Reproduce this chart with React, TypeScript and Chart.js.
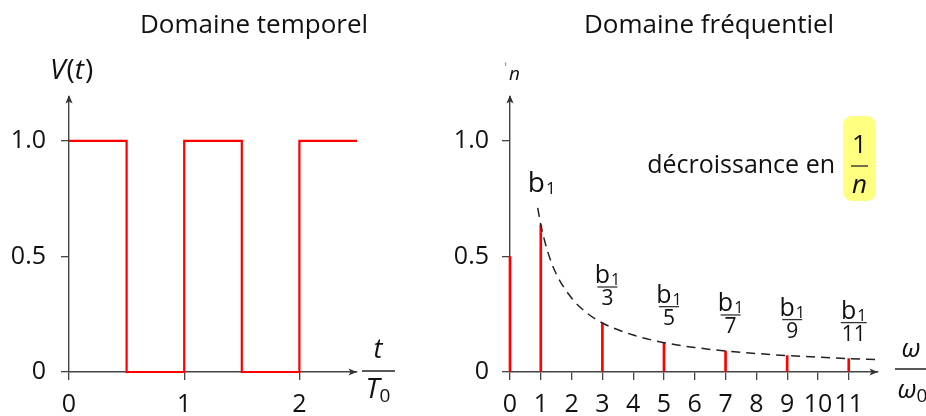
import React, { useEffect, useRef } from 'react';
import { Chart, registerables } from 'chart.js';

Chart.register(...registerables);

// ---------- Time domain (square wave) ----------
const squareT = [0, 0.5, 0.5, 1, 1, 1.5, 1.5, 2, 2, 2.5];
const squareV = [1, 1, 0, 0, 1, 1, 0, 0, 1, 1];
const timeTicks = [0, 1, 2];
const valueTicks = [0, 0.5, 1.0];

// ---------- Frequency domain (spectrum) ----------
const harmonicN = [0, 1, 3, 5, 7, 9, 11];
const harmonicAmp = [0.5, 0.637, 0.212, 0.127, 0.091, 0.071, 0.058];
const harmonicDen = ['', '', '3', '5', '7', '9', '11'];
const envelopeX = [0.9, 1, 1.25, 1.5, 2, 2.5, 3, 4, 5, 6, 7, 8, 9, 10, 11, 11.9];
const envelopeY = [0.71, 0.637, 0.51, 0.425, 0.32, 0.255, 0.212, 0.16, 0.127, 0.106, 0.091, 0.08, 0.071, 0.064, 0.058, 0.054];
const freqTicks = [0, 1, 2, 3, 4, 5, 6, 7, 8, 9, 10, 11];

const FONT = '"Open Sans", "Liberation Sans", sans-serif';
const INK = '#111111';
const AXIS = '#444444';
const RED = '#ff0000';

function setFont(ctx: CanvasRenderingContext2D, size: number, italic = false) {
  ctx.font = `${italic ? 'italic ' : ''}${size}px ${FONT}`;
}

function text(ctx: CanvasRenderingContext2D, s: string, x: number, y: number, size: number, align: CanvasTextAlign = 'left', italic = false, color = INK) {
  setFont(ctx, size, italic);
  ctx.fillStyle = color;
  ctx.textAlign = align;
  ctx.textBaseline = 'alphabetic';
  ctx.fillText(s, x, y);
}

function arrowUp(ctx: CanvasRenderingContext2D, x: number, y: number) {
  ctx.fillStyle = '#333';
  ctx.beginPath();
  ctx.moveTo(x, y);
  ctx.lineTo(x + 3.6, y + 8.5);
  ctx.lineTo(x, y + 6.5);
  ctx.lineTo(x - 3.6, y + 8.5);
  ctx.closePath();
  ctx.fill();
}

function arrowRight(ctx: CanvasRenderingContext2D, x: number, y: number) {
  ctx.fillStyle = '#333';
  ctx.beginPath();
  ctx.moveTo(x, y);
  ctx.lineTo(x - 8.5, y - 3.6);
  ctx.lineTo(x - 6.5, y);
  ctx.lineTo(x - 8.5, y + 3.6);
  ctx.closePath();
  ctx.fill();
}

function hline(ctx: CanvasRenderingContext2D, x1: number, x2: number, y: number, w = 1.4, color = '#222') {
  ctx.strokeStyle = color;
  ctx.lineWidth = w;
  ctx.beginPath();
  ctx.moveTo(x1, y);
  ctx.lineTo(x2, y);
  ctx.stroke();
}

// "b" with subscript 1, centered at cx, baseline y
function drawB1(ctx: CanvasRenderingContext2D, cx: number, y: number, bSize: number, subSize: number) {
  setFont(ctx, bSize);
  const wb = ctx.measureText('b').width;
  setFont(ctx, subSize);
  const w1 = ctx.measureText('1').width;
  const x0 = cx - (wb + w1 + 1) / 2;
  text(ctx, 'b', x0, y, bSize, 'left');
  text(ctx, '1', x0 + wb + 1, y + 2, subSize, 'left');
}

function axisScale(ticks: number[], min: number, max: number, isX: boolean, size: number, fmt: (v: number) => string, pad: number) {
  return {
    type: 'linear' as const,
    min,
    max,
    offset: false,
    afterBuildTicks: (s: any) => {
      s.ticks = ticks.map((v) => ({ value: v }));
    },
    afterFit: (s: any) => {
      if (isX) s.height = 44;
    },
    grid: {
      offset: false,
      drawOnChartArea: false,
      drawTicks: true,
      tickLength: 8,
      color: AXIS,
      lineWidth: 1.3,
    },
    border: { display: true, color: AXIS, width: 1.4 },
    ticks: {
      font: { family: FONT, size },
      color: INK,
      padding: pad,
      autoSkip: false,
      maxRotation: 0,
      minRotation: 0,
      callback: (v: any) => fmt(Number(v)),
    },
  };
}

const fmtY = (v: number) => (v === 0 ? '0' : v.toFixed(1));
const fmtX = (v: number) => String(v);

function leftConfig(): any {
  const overlay = {
    id: 'leftOverlay',
    afterDraw(chart: any) {
      const ctx: CanvasRenderingContext2D = chart.ctx;
      const ca = chart.chartArea;
      ctx.save();
      arrowUp(ctx, ca.left, ca.top - 2);
      arrowRight(ctx, ca.right, ca.bottom);
      // title
      text(ctx, 'Domaine temporel', ca.left + 185, 33, 26, 'center');
      // V(t)
      let x = ca.left - 19;
      const yb = 79;
      setFont(ctx, 28, true);
      text(ctx, 'V', x, yb, 28, 'left', true);
      x += ctx.measureText('V').width + 1;
      setFont(ctx, 28);
      text(ctx, '(', x, yb, 28);
      x += ctx.measureText('(').width;
      setFont(ctx, 28, true);
      text(ctx, 't', x, yb, 28, 'left', true);
      x += ctx.measureText('t').width + 1;
      text(ctx, ')', x, yb, 28);
      // t / T0
      const cx = ca.right + 21;
      text(ctx, 't', cx, 358, 27, 'center', true);
      hline(ctx, ca.right + 5, ca.right + 38, ca.bottom - 1, 1.4);
      setFont(ctx, 28, true);
      const wT = ctx.measureText('T').width;
      setFont(ctx, 19);
      const w0 = ctx.measureText('0').width;
      const tx = cx - (wT + w0) / 2;
      text(ctx, 'T', tx, 398, 28, 'left', true);
      text(ctx, '0', tx + wT, 402, 19, 'left');
      ctx.restore();
    },
  };
  return {
    type: 'line',
    data: {
      datasets: [
        {
          data: squareT.map((t, i) => ({ x: t, y: squareV[i] })),
          borderColor: RED,
          borderWidth: 2.2,
          pointRadius: 0,
          tension: 0,
          fill: false,
          clip: false,
        },
      ],
    },
    options: {
      animation: false,
      responsive: false,
      devicePixelRatio: 1,
      layout: { padding: { left: 0, top: 97, right: 63, bottom: 0 } },
      plugins: { legend: { display: false }, tooltip: { enabled: false }, title: { display: false } },
      scales: {
        x: axisScale(timeTicks, 0, 2.5, true, 25, fmtX, 10),
        y: { ...axisScale(valueTicks, 0, 1.19, false, 25, fmtY, 15), afterFit: (s: any) => { s.width = 69; } },
      },
    },
    plugins: [overlay],
  };
}

function rightConfig(): any {
  const overlay = {
    id: 'rightOverlay',
    afterDraw(chart: any) {
      const ctx: CanvasRenderingContext2D = chart.ctx;
      const ca = chart.chartArea;
      const xs = chart.scales.x;
      const ys = chart.scales.y;
      ctx.save();
      arrowUp(ctx, ca.left, ca.top - 2);
      arrowRight(ctx, ca.right, ca.bottom);
      text(ctx, 'Domaine fréquentiel', ca.left + 199, 33, 26, 'center');
      // y label (partly cut off in original)
      text(ctx, 'ʹ', ca.left - 6, 74, 16, 'left', false, '#7f9fcf');
      text(ctx, 'n', ca.left - 1, 80, 19, 'left', true);
      // harmonic labels
      harmonicN.forEach((n, i) => {
        if (n < 1) return;
        const px = xs.getPixelForValue(n);
        const py = ys.getPixelForValue(harmonicAmp[i]);
        if (harmonicDen[i] === '') {
          drawB1(ctx, px + 1, py - 33, 28, 17);
        } else {
          const cx = px + 5;
          const ly = py - 36;
          drawB1(ctx, cx, ly - 4, 25, 16);
          setFont(ctx, 21);
          const wd = ctx.measureText(harmonicDen[i]).width;
          const half = Math.max(10, wd / 2 + 1);
          hline(ctx, cx - half, cx + half, ly, 1.3, '#333');
          text(ctx, harmonicDen[i], cx, ly + 18, 21, 'center');
        }
      });
      // décroissance en 1/n
      text(ctx, 'décroissance en', ca.left + 325, 173, 25, 'right');
      const bx = ca.left + 333;
      const bw = 33;
      ctx.fillStyle = '#ffff80';
      ctx.beginPath();
      (ctx as any).roundRect(bx, 116, bw, 85, 9);
      ctx.fill();
      const bc = bx + bw / 2;
      text(ctx, '1', bc, 153, 26, 'center');
      hline(ctx, bc - 8.5, bc + 8.5, 166, 1.4, '#333');
      text(ctx, 'n', bc, 193, 26, 'center', true);
      // omega / omega0
      const ox = ca.right + 33;
      text(ctx, 'ω', ox, 357, 26, 'center', true);
      hline(ctx, ca.right + 17, ca.right + 52, 369, 1.4);
      setFont(ctx, 26, true);
      const ww = ctx.measureText('ω').width;
      text(ctx, 'ω', ox - ww / 2 - 4, 398, 26, 'left', true);
      text(ctx, '0', ox + ww / 2 - 4, 402, 19, 'left');
      ctx.restore();
    },
  };
  return {
    type: 'bar',
    data: {
      datasets: [
        {
          type: 'bar',
          data: harmonicN.map((n, i) => ({ x: n, y: harmonicAmp[i] })),
          backgroundColor: RED,
          borderWidth: 0,
          barThickness: 2,
          clip: false,
          order: 2,
        },
        {
          type: 'line',
          data: envelopeX.map((x, i) => ({ x, y: envelopeY[i] })),
          borderColor: '#222',
          borderWidth: 1.5,
          borderDash: [9, 6],
          pointRadius: 0,
          cubicInterpolationMode: 'monotone',
          fill: false,
          clip: false,
          order: 1,
        },
      ],
    },
    options: {
      animation: false,
      responsive: false,
      devicePixelRatio: 1,
      layout: { padding: { left: 0, top: 97, right: 48, bottom: 0 } },
      plugins: { legend: { display: false }, tooltip: { enabled: false }, title: { display: false } },
      scales: {
        x: axisScale(freqTicks, 0, 11.95, true, 25, fmtX, 10),
        y: { ...axisScale(valueTicks, 0, 1.19, false, 25, fmtY, 13), afterFit: (s: any) => { s.width = 90; } },
      },
    },
    plugins: [overlay],
  };
}

export default function App() {
  const leftRef = useRef<HTMLCanvasElement>(null);
  const rightRef = useRef<HTMLCanvasElement>(null);
  useEffect(() => {
    const c1 = new Chart(leftRef.current!, leftConfig());
    const c2 = new Chart(rightRef.current!, rightConfig());
    return () => {
      c1.destroy();
      c2.destroy();
    };
  }, []);
  return (
    <div style={{ position: 'absolute', left: 0, top: 0, width: 926, height: 416, background: '#fff', overflow: 'hidden' }}>
      <canvas ref={leftRef} width={420} height={416} style={{ position: 'absolute', left: 0, top: 0, width: 420, height: 416 }} />
      <canvas ref={rightRef} width={506} height={416} style={{ position: 'absolute', left: 420, top: 0, width: 506, height: 416 }} />
    </div>
  );
}
